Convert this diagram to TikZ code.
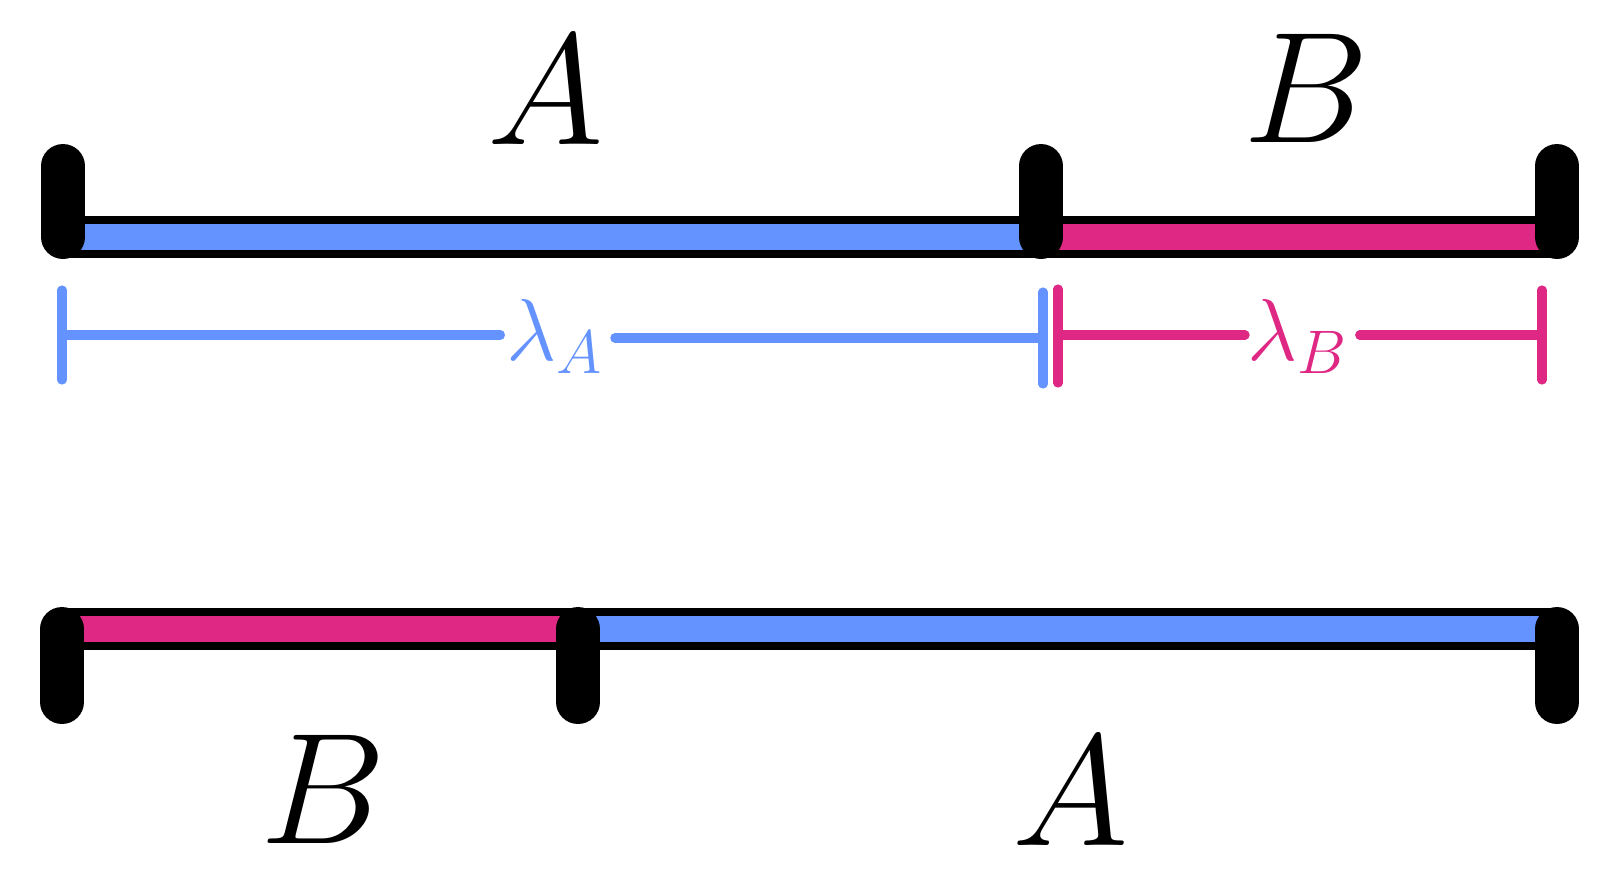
\RequirePackage{fix-cm}
\documentclass[tikz,border=0pt]{standalone}
\usepackage{xcolor}
\usetikzlibrary{calc}
\definecolor{colA}{RGB}{100,146,255}
\definecolor{colB}{RGB}{222,40,132}

\begin{document}
\begin{tikzpicture}[
    x=0.01cm, y=-0.01cm,
    band/.style={line width=12.2pt, black},
    fillbar/.style={line width=7.4pt},
    tick/.style={line width=12.5pt, line cap=round, black},
    dim/.style={line width=2.6pt, line cap=round},
    lbl/.style={anchor=base, inner sep=0pt, font=\fontsize{45}{50}\selectfont},
    lam/.style={anchor=base, inner xsep=3pt, inner ysep=0pt, font=\fontsize{25}{30}\selectfont}
]
\useasboundingbox (0,0) rectangle (1615,875);

% Barra superiore
\coordinate (p0) at (63,237);
\coordinate (p1) at (1041,237);
\coordinate (p2) at (1557,237);
\draw[band] (p0) -- (p2);
\draw[fillbar, colA] (p0) -- (p1);
\draw[fillbar, colB] (p1) -- (p2);
\foreach \p in {p0,p1,p2}
    \draw[tick] (\p) -- ++(0,-71);

\node[lbl] (topA) at (546,144) {$A$};
\node[lbl] (topB) at (1306,142) {$B$};

% Lunghezze
\coordinate (a0) at (62,335);
\coordinate (a1) at (1043,338);
\coordinate (b0) at (1058,335);
\coordinate (b1) at (1542,335);
\node[lam, text=colA] (lamA) at (555,360) {$\lambda_A$};
\node[lam, text=colB] (lamB) at (1298,360) {$\lambda_B$};

\draw[dim, colA, shorten >=-1.5pt] (a0) -- (a0 -| lamA.west);
\draw[dim, colA] (lamA.east |- a1) -- (a1);
\draw[dim, colA] ($(a0)+(0,-45)$) -- ($(a0)+(0,45)$);
\draw[dim, colA] ($(a1)+(0,-46)$) -- ($(a1)+(0,46)$);

\draw[dim, colB, shorten >=-2.5pt] (b0) -- (b0 -| lamB.west);
\draw[dim, colB] (lamB.east |- b1) -- (b1);
\draw[dim, colB] ($(b0)+(0,-46)$) -- ($(b0)+(0,48)$);
\draw[dim, colB] ($(b1)+(0,-45)$) -- ($(b1)+(0,45)$);

% Barra inferiore
\coordinate (q0) at (62,629);
\coordinate (q1) at (578,629);
\coordinate (q2) at (1557,629);
\draw[band] (q0) -- (q2);
\draw[fillbar, colB] (q0) -- (q1);
\draw[fillbar, colA] (q1) -- (q2);
\foreach \q in {q0,q1,q2}
    \draw[tick] (\q) -- ++(0,73);

\node[lbl] (botB) at (323,843) {$B$};
\node[lbl] (botA) at (1071,845) {$A$};

\end{tikzpicture}
\end{document}
